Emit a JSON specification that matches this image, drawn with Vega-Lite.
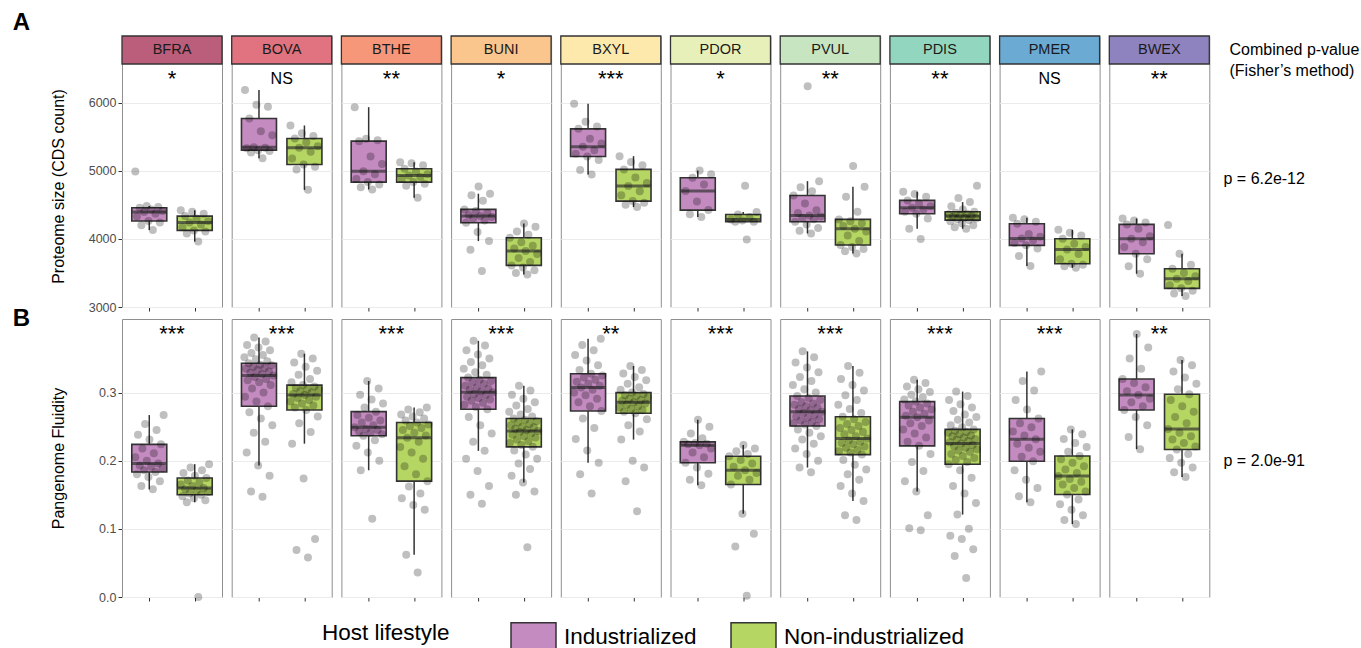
{
"$schema":"https://vega.github.io/schema/vega-lite/v6.json",
"background":"white",
"padding":{"left":12,"top":11,"right":5,"bottom":5},
"spacing":-7,
"config":{
"font":"Liberation Sans",
"view":{"stroke":"#8f8f8f","strokeWidth":1},
"legend":{"orient":"none","legendX":200,"legendY":577,"direction":"horizontal","titleOrient":"left","symbolType":"M-1,-0.62H1V0.62H-1Z","symbolSize":2025,"symbolStrokeColor":"#333333","symbolStrokeWidth":1.5,"symbolOpacity":1,"labelFontSize":22.5,"titleFontSize":22.5,"titleFontWeight":"normal","titleColor":"black","labelColor":"black","labelLimit":300,"columnPadding":31,"labelOffset":7,"titlePadding":60}
},
"datasets":{
"sigA":[{"s":"BFRA","sig":"*"},{"s":"BOVA","sig":"NS"},{"s":"BTHE","sig":"**"},{"s":"BUNI","sig":"*"},{"s":"BXYL","sig":"***"},{"s":"PDOR","sig":"*"},{"s":"PVUL","sig":"**"},{"s":"PDIS","sig":"**"},{"s":"PMER","sig":"NS"},{"s":"BWEX","sig":"**"}],
"sigB":[{"s":"BFRA","sig":"***"},{"s":"BOVA","sig":"***"},{"s":"BTHE","sig":"***"},{"s":"BUNI","sig":"***"},{"s":"BXYL","sig":"**"},{"s":"PDOR","sig":"***"},{"s":"PVUL","sig":"***"},{"s":"PDIS","sig":"***"},{"s":"PMER","sig":"***"},{"s":"BWEX","sig":"**"}],
"A":[
{"s":"BFRA","g":"I","v":4130},{"s":"BFRA","g":"I","v":4200},{"s":"BFRA","g":"I","v":4240},{"s":"BFRA","g":"I","v":4262},{"s":"BFRA","g":"I","v":4330},{"s":"BFRA","g":"I","v":4370},{"s":"BFRA","g":"I","v":4394},{"s":"BFRA","g":"I","v":4410},{"s":"BFRA","g":"I","v":4430},{"s":"BFRA","g":"I","v":4457},{"s":"BFRA","g":"I","v":4470},{"s":"BFRA","g":"I","v":4482},{"s":"BFRA","g":"I","v":4990},
{"s":"BFRA","g":"N","v":3960},{"s":"BFRA","g":"N","v":4080},{"s":"BFRA","g":"N","v":4110},{"s":"BFRA","g":"N","v":4125},{"s":"BFRA","g":"N","v":4170},{"s":"BFRA","g":"N","v":4210},{"s":"BFRA","g":"N","v":4242},{"s":"BFRA","g":"N","v":4260},{"s":"BFRA","g":"N","v":4300},{"s":"BFRA","g":"N","v":4335},{"s":"BFRA","g":"N","v":4370},{"s":"BFRA","g":"N","v":4400},{"s":"BFRA","g":"N","v":4420},
{"s":"BOVA","g":"I","v":5185},{"s":"BOVA","g":"I","v":5270},{"s":"BOVA","g":"I","v":5290},{"s":"BOVA","g":"I","v":5303},{"s":"BOVA","g":"I","v":5330},{"s":"BOVA","g":"I","v":5340},{"s":"BOVA","g":"I","v":5347},{"s":"BOVA","g":"I","v":5520},{"s":"BOVA","g":"I","v":5580},{"s":"BOVA","g":"I","v":5768},{"s":"BOVA","g":"I","v":5940},{"s":"BOVA","g":"I","v":5970},{"s":"BOVA","g":"I","v":6185},
{"s":"BOVA","g":"N","v":4720},{"s":"BOVA","g":"N","v":5020},{"s":"BOVA","g":"N","v":5060},{"s":"BOVA","g":"N","v":5093},{"s":"BOVA","g":"N","v":5180},{"s":"BOVA","g":"N","v":5280},{"s":"BOVA","g":"N","v":5337},{"s":"BOVA","g":"N","v":5360},{"s":"BOVA","g":"N","v":5420},{"s":"BOVA","g":"N","v":5474},{"s":"BOVA","g":"N","v":5510},{"s":"BOVA","g":"N","v":5550},{"s":"BOVA","g":"N","v":5665},
{"s":"BTHE","g":"I","v":4726},{"s":"BTHE","g":"I","v":4760},{"s":"BTHE","g":"I","v":4800},{"s":"BTHE","g":"I","v":4834},{"s":"BTHE","g":"I","v":4880},{"s":"BTHE","g":"I","v":4950},{"s":"BTHE","g":"I","v":4995},{"s":"BTHE","g":"I","v":5100},{"s":"BTHE","g":"I","v":5210},{"s":"BTHE","g":"I","v":5435},{"s":"BTHE","g":"I","v":5450},{"s":"BTHE","g":"I","v":5470},{"s":"BTHE","g":"I","v":5934},
{"s":"BTHE","g":"N","v":4604},{"s":"BTHE","g":"N","v":4780},{"s":"BTHE","g":"N","v":4810},{"s":"BTHE","g":"N","v":4834},{"s":"BTHE","g":"N","v":4880},{"s":"BTHE","g":"N","v":4910},{"s":"BTHE","g":"N","v":4932},{"s":"BTHE","g":"N","v":4950},{"s":"BTHE","g":"N","v":4990},{"s":"BTHE","g":"N","v":5029},{"s":"BTHE","g":"N","v":5080},{"s":"BTHE","g":"N","v":5110},{"s":"BTHE","g":"N","v":5125},
{"s":"BUNI","g":"I","v":3530},{"s":"BUNI","g":"I","v":3840},{"s":"BUNI","g":"I","v":3968},{"s":"BUNI","g":"I","v":4100},{"s":"BUNI","g":"I","v":4237},{"s":"BUNI","g":"I","v":4270},{"s":"BUNI","g":"I","v":4300},{"s":"BUNI","g":"I","v":4320},{"s":"BUNI","g":"I","v":4335},{"s":"BUNI","g":"I","v":4350},{"s":"BUNI","g":"I","v":4380},{"s":"BUNI","g":"I","v":4410},{"s":"BUNI","g":"I","v":4433},{"s":"BUNI","g":"I","v":4560},{"s":"BUNI","g":"I","v":4640},{"s":"BUNI","g":"I","v":4663},{"s":"BUNI","g":"I","v":4770},
{"s":"BUNI","g":"N","v":3479},{"s":"BUNI","g":"N","v":3500},{"s":"BUNI","g":"N","v":3540},{"s":"BUNI","g":"N","v":3580},{"s":"BUNI","g":"N","v":3611},{"s":"BUNI","g":"N","v":3660},{"s":"BUNI","g":"N","v":3720},{"s":"BUNI","g":"N","v":3780},{"s":"BUNI","g":"N","v":3822},{"s":"BUNI","g":"N","v":3860},{"s":"BUNI","g":"N","v":3900},{"s":"BUNI","g":"N","v":3950},{"s":"BUNI","g":"N","v":4017},{"s":"BUNI","g":"N","v":4060},{"s":"BUNI","g":"N","v":4110},{"s":"BUNI","g":"N","v":4180},{"s":"BUNI","g":"N","v":4227},
{"s":"BXYL","g":"I","v":4946},{"s":"BXYL","g":"I","v":5010},{"s":"BXYL","g":"I","v":5160},{"s":"BXYL","g":"I","v":5210},{"s":"BXYL","g":"I","v":5250},{"s":"BXYL","g":"I","v":5300},{"s":"BXYL","g":"I","v":5352},{"s":"BXYL","g":"I","v":5400},{"s":"BXYL","g":"I","v":5470},{"s":"BXYL","g":"I","v":5616},{"s":"BXYL","g":"I","v":5650},{"s":"BXYL","g":"I","v":5720},{"s":"BXYL","g":"I","v":5983},
{"s":"BXYL","g":"N","v":4467},{"s":"BXYL","g":"N","v":4500},{"s":"BXYL","g":"N","v":4530},{"s":"BXYL","g":"N","v":4555},{"s":"BXYL","g":"N","v":4640},{"s":"BXYL","g":"N","v":4700},{"s":"BXYL","g":"N","v":4775},{"s":"BXYL","g":"N","v":4820},{"s":"BXYL","g":"N","v":4900},{"s":"BXYL","g":"N","v":5020},{"s":"BXYL","g":"N","v":5080},{"s":"BXYL","g":"N","v":5130},{"s":"BXYL","g":"N","v":5215},
{"s":"PDOR","g":"I","v":4320},{"s":"PDOR","g":"I","v":4360},{"s":"PDOR","g":"I","v":4423},{"s":"PDOR","g":"I","v":4550},{"s":"PDOR","g":"I","v":4702},{"s":"PDOR","g":"I","v":4800},{"s":"PDOR","g":"I","v":4897},{"s":"PDOR","g":"I","v":4950},{"s":"PDOR","g":"I","v":5005},
{"s":"PDOR","g":"N","v":3990},{"s":"PDOR","g":"N","v":4250},{"s":"PDOR","g":"N","v":4252},{"s":"PDOR","g":"N","v":4270},{"s":"PDOR","g":"N","v":4286},{"s":"PDOR","g":"N","v":4320},{"s":"PDOR","g":"N","v":4359},{"s":"PDOR","g":"N","v":4394},{"s":"PDOR","g":"N","v":4780},
{"s":"PVUL","g":"I","v":4081},{"s":"PVUL","g":"I","v":4120},{"s":"PVUL","g":"I","v":4160},{"s":"PVUL","g":"I","v":4210},{"s":"PVUL","g":"I","v":4252},{"s":"PVUL","g":"I","v":4290},{"s":"PVUL","g":"I","v":4310},{"s":"PVUL","g":"I","v":4330},{"s":"PVUL","g":"I","v":4345},{"s":"PVUL","g":"I","v":4380},{"s":"PVUL","g":"I","v":4420},{"s":"PVUL","g":"I","v":4520},{"s":"PVUL","g":"I","v":4638},{"s":"PVUL","g":"I","v":4700},{"s":"PVUL","g":"I","v":4760},{"s":"PVUL","g":"I","v":4848},{"s":"PVUL","g":"I","v":6242},
{"s":"PVUL","g":"N","v":3787},{"s":"PVUL","g":"N","v":3820},{"s":"PVUL","g":"N","v":3850},{"s":"PVUL","g":"N","v":3880},{"s":"PVUL","g":"N","v":3910},{"s":"PVUL","g":"N","v":3970},{"s":"PVUL","g":"N","v":4050},{"s":"PVUL","g":"N","v":4110},{"s":"PVUL","g":"N","v":4149},{"s":"PVUL","g":"N","v":4190},{"s":"PVUL","g":"N","v":4230},{"s":"PVUL","g":"N","v":4260},{"s":"PVUL","g":"N","v":4286},{"s":"PVUL","g":"N","v":4400},{"s":"PVUL","g":"N","v":4620},{"s":"PVUL","g":"N","v":4765},{"s":"PVUL","g":"N","v":5070},
{"s":"PDIS","g":"I","v":4000},{"s":"PDIS","g":"I","v":4149},{"s":"PDIS","g":"I","v":4300},{"s":"PDIS","g":"I","v":4369},{"s":"PDIS","g":"I","v":4400},{"s":"PDIS","g":"I","v":4430},{"s":"PDIS","g":"I","v":4457},{"s":"PDIS","g":"I","v":4480},{"s":"PDIS","g":"I","v":4520},{"s":"PDIS","g":"I","v":4565},{"s":"PDIS","g":"I","v":4620},{"s":"PDIS","g":"I","v":4660},{"s":"PDIS","g":"I","v":4692},
{"s":"PDIS","g":"N","v":4149},{"s":"PDIS","g":"N","v":4170},{"s":"PDIS","g":"N","v":4200},{"s":"PDIS","g":"N","v":4230},{"s":"PDIS","g":"N","v":4260},{"s":"PDIS","g":"N","v":4276},{"s":"PDIS","g":"N","v":4290},{"s":"PDIS","g":"N","v":4300},{"s":"PDIS","g":"N","v":4315},{"s":"PDIS","g":"N","v":4325},{"s":"PDIS","g":"N","v":4335},{"s":"PDIS","g":"N","v":4345},{"s":"PDIS","g":"N","v":4360},{"s":"PDIS","g":"N","v":4370},{"s":"PDIS","g":"N","v":4385},{"s":"PDIS","g":"N","v":4399},{"s":"PDIS","g":"N","v":4430},{"s":"PDIS","g":"N","v":4480},{"s":"PDIS","g":"N","v":4540},{"s":"PDIS","g":"N","v":4600},{"s":"PDIS","g":"N","v":4780},
{"s":"PMER","g":"I","v":3602},{"s":"PMER","g":"I","v":3750},{"s":"PMER","g":"I","v":3860},{"s":"PMER","g":"I","v":3905},{"s":"PMER","g":"I","v":3940},{"s":"PMER","g":"I","v":3980},{"s":"PMER","g":"I","v":4007},{"s":"PMER","g":"I","v":4030},{"s":"PMER","g":"I","v":4070},{"s":"PMER","g":"I","v":4223},{"s":"PMER","g":"I","v":4250},{"s":"PMER","g":"I","v":4290},{"s":"PMER","g":"I","v":4310},
{"s":"PMER","g":"N","v":3577},{"s":"PMER","g":"N","v":3600},{"s":"PMER","g":"N","v":3620},{"s":"PMER","g":"N","v":3636},{"s":"PMER","g":"N","v":3700},{"s":"PMER","g":"N","v":3780},{"s":"PMER","g":"N","v":3846},{"s":"PMER","g":"N","v":3880},{"s":"PMER","g":"N","v":3930},{"s":"PMER","g":"N","v":4002},{"s":"PMER","g":"N","v":4050},{"s":"PMER","g":"N","v":4090},{"s":"PMER","g":"N","v":4134},
{"s":"BWEX","g":"I","v":3489},{"s":"BWEX","g":"I","v":3600},{"s":"BWEX","g":"I","v":3700},{"s":"BWEX","g":"I","v":3782},{"s":"BWEX","g":"I","v":3880},{"s":"BWEX","g":"I","v":3950},{"s":"BWEX","g":"I","v":4002},{"s":"BWEX","g":"I","v":4040},{"s":"BWEX","g":"I","v":4150},{"s":"BWEX","g":"I","v":4213},{"s":"BWEX","g":"I","v":4240},{"s":"BWEX","g":"I","v":4270},{"s":"BWEX","g":"I","v":4300},
{"s":"BWEX","g":"N","v":3161},{"s":"BWEX","g":"N","v":3200},{"s":"BWEX","g":"N","v":3240},{"s":"BWEX","g":"N","v":3274},{"s":"BWEX","g":"N","v":3320},{"s":"BWEX","g":"N","v":3380},{"s":"BWEX","g":"N","v":3416},{"s":"BWEX","g":"N","v":3450},{"s":"BWEX","g":"N","v":3500},{"s":"BWEX","g":"N","v":3562},{"s":"BWEX","g":"N","v":3620},{"s":"BWEX","g":"N","v":3782},{"s":"BWEX","g":"N","v":4203}
],
"B":[
{"s":"BFRA","g":"I","v":0.158},{"s":"BFRA","g":"I","v":0.163},{"s":"BFRA","g":"I","v":0.170},{"s":"BFRA","g":"I","v":0.176},{"s":"BFRA","g":"I","v":0.180},{"s":"BFRA","g":"I","v":0.1835},{"s":"BFRA","g":"I","v":0.186},{"s":"BFRA","g":"I","v":0.189},{"s":"BFRA","g":"I","v":0.191},{"s":"BFRA","g":"I","v":0.193},{"s":"BFRA","g":"I","v":0.196},{"s":"BFRA","g":"I","v":0.200},{"s":"BFRA","g":"I","v":0.205},{"s":"BFRA","g":"I","v":0.211},{"s":"BFRA","g":"I","v":0.218},{"s":"BFRA","g":"I","v":0.224},{"s":"BFRA","g":"I","v":0.231},{"s":"BFRA","g":"I","v":0.238},{"s":"BFRA","g":"I","v":0.245},{"s":"BFRA","g":"I","v":0.254},{"s":"BFRA","g":"I","v":0.267},
{"s":"BFRA","g":"N","v":0.0},{"s":"BFRA","g":"N","v":0.139},{"s":"BFRA","g":"N","v":0.142},{"s":"BFRA","g":"N","v":0.145},{"s":"BFRA","g":"N","v":0.148},{"s":"BFRA","g":"N","v":0.150},{"s":"BFRA","g":"N","v":0.152},{"s":"BFRA","g":"N","v":0.154},{"s":"BFRA","g":"N","v":0.156},{"s":"BFRA","g":"N","v":0.158},{"s":"BFRA","g":"N","v":0.160},{"s":"BFRA","g":"N","v":0.163},{"s":"BFRA","g":"N","v":0.165},{"s":"BFRA","g":"N","v":0.168},{"s":"BFRA","g":"N","v":0.171},{"s":"BFRA","g":"N","v":0.1746},{"s":"BFRA","g":"N","v":0.178},{"s":"BFRA","g":"N","v":0.182},{"s":"BFRA","g":"N","v":0.186},{"s":"BFRA","g":"N","v":0.190},{"s":"BFRA","g":"N","v":0.195},
{"s":"BOVA","g":"I","v":0.147},{"s":"BOVA","g":"I","v":0.155},{"s":"BOVA","g":"I","v":0.178},{"s":"BOVA","g":"I","v":0.193},{"s":"BOVA","g":"I","v":0.212},{"s":"BOVA","g":"I","v":0.228},{"s":"BOVA","g":"I","v":0.241},{"s":"BOVA","g":"I","v":0.252},{"s":"BOVA","g":"I","v":0.262},{"s":"BOVA","g":"I","v":0.271},{"s":"BOVA","g":"I","v":0.280},{"s":"BOVA","g":"I","v":0.287},{"s":"BOVA","g":"I","v":0.294},{"s":"BOVA","g":"I","v":0.300},{"s":"BOVA","g":"I","v":0.306},{"s":"BOVA","g":"I","v":0.311},{"s":"BOVA","g":"I","v":0.315},{"s":"BOVA","g":"I","v":0.318},{"s":"BOVA","g":"I","v":0.320},{"s":"BOVA","g":"I","v":0.323},{"s":"BOVA","g":"I","v":0.325},{"s":"BOVA","g":"I","v":0.327},{"s":"BOVA","g":"I","v":0.329},{"s":"BOVA","g":"I","v":0.331},{"s":"BOVA","g":"I","v":0.333},{"s":"BOVA","g":"I","v":0.335},{"s":"BOVA","g":"I","v":0.336},{"s":"BOVA","g":"I","v":0.338},{"s":"BOVA","g":"I","v":0.340},{"s":"BOVA","g":"I","v":0.341},{"s":"BOVA","g":"I","v":0.343},{"s":"BOVA","g":"I","v":0.346},{"s":"BOVA","g":"I","v":0.349},{"s":"BOVA","g":"I","v":0.352},{"s":"BOVA","g":"I","v":0.355},{"s":"BOVA","g":"I","v":0.358},{"s":"BOVA","g":"I","v":0.362},{"s":"BOVA","g":"I","v":0.366},{"s":"BOVA","g":"I","v":0.370},{"s":"BOVA","g":"I","v":0.375},{"s":"BOVA","g":"I","v":0.381},
{"s":"BOVA","g":"N","v":0.058},{"s":"BOVA","g":"N","v":0.069},{"s":"BOVA","g":"N","v":0.085},{"s":"BOVA","g":"N","v":0.174},{"s":"BOVA","g":"N","v":0.225},{"s":"BOVA","g":"N","v":0.242},{"s":"BOVA","g":"N","v":0.255},{"s":"BOVA","g":"N","v":0.265},{"s":"BOVA","g":"N","v":0.2745},{"s":"BOVA","g":"N","v":0.278},{"s":"BOVA","g":"N","v":0.281},{"s":"BOVA","g":"N","v":0.284},{"s":"BOVA","g":"N","v":0.287},{"s":"BOVA","g":"N","v":0.289},{"s":"BOVA","g":"N","v":0.292},{"s":"BOVA","g":"N","v":0.294},{"s":"BOVA","g":"N","v":0.2966},{"s":"BOVA","g":"N","v":0.298},{"s":"BOVA","g":"N","v":0.300},{"s":"BOVA","g":"N","v":0.302},{"s":"BOVA","g":"N","v":0.304},{"s":"BOVA","g":"N","v":0.305},{"s":"BOVA","g":"N","v":0.307},{"s":"BOVA","g":"N","v":0.309},{"s":"BOVA","g":"N","v":0.311},{"s":"BOVA","g":"N","v":0.315},{"s":"BOVA","g":"N","v":0.320},{"s":"BOVA","g":"N","v":0.326},{"s":"BOVA","g":"N","v":0.332},{"s":"BOVA","g":"N","v":0.338},{"s":"BOVA","g":"N","v":0.344},{"s":"BOVA","g":"N","v":0.350},{"s":"BOVA","g":"N","v":0.357},
{"s":"BTHE","g":"I","v":0.115},{"s":"BTHE","g":"I","v":0.186},{"s":"BTHE","g":"I","v":0.200},{"s":"BTHE","g":"I","v":0.212},{"s":"BTHE","g":"I","v":0.222},{"s":"BTHE","g":"I","v":0.230},{"s":"BTHE","g":"I","v":0.2366},{"s":"BTHE","g":"I","v":0.239},{"s":"BTHE","g":"I","v":0.241},{"s":"BTHE","g":"I","v":0.243},{"s":"BTHE","g":"I","v":0.245},{"s":"BTHE","g":"I","v":0.247},{"s":"BTHE","g":"I","v":0.249},{"s":"BTHE","g":"I","v":0.252},{"s":"BTHE","g":"I","v":0.256},{"s":"BTHE","g":"I","v":0.259},{"s":"BTHE","g":"I","v":0.263},{"s":"BTHE","g":"I","v":0.267},{"s":"BTHE","g":"I","v":0.272},{"s":"BTHE","g":"I","v":0.278},{"s":"BTHE","g":"I","v":0.284},{"s":"BTHE","g":"I","v":0.290},{"s":"BTHE","g":"I","v":0.297},{"s":"BTHE","g":"I","v":0.306},{"s":"BTHE","g":"I","v":0.317},
{"s":"BTHE","g":"N","v":0.036},{"s":"BTHE","g":"N","v":0.062},{"s":"BTHE","g":"N","v":0.128},{"s":"BTHE","g":"N","v":0.135},{"s":"BTHE","g":"N","v":0.145},{"s":"BTHE","g":"N","v":0.152},{"s":"BTHE","g":"N","v":0.162},{"s":"BTHE","g":"N","v":0.170},{"s":"BTHE","g":"N","v":0.180},{"s":"BTHE","g":"N","v":0.192},{"s":"BTHE","g":"N","v":0.203},{"s":"BTHE","g":"N","v":0.212},{"s":"BTHE","g":"N","v":0.220},{"s":"BTHE","g":"N","v":0.228},{"s":"BTHE","g":"N","v":0.2336},{"s":"BTHE","g":"N","v":0.237},{"s":"BTHE","g":"N","v":0.241},{"s":"BTHE","g":"N","v":0.245},{"s":"BTHE","g":"N","v":0.248},{"s":"BTHE","g":"N","v":0.251},{"s":"BTHE","g":"N","v":0.253},{"s":"BTHE","g":"N","v":0.256},{"s":"BTHE","g":"N","v":0.259},{"s":"BTHE","g":"N","v":0.262},{"s":"BTHE","g":"N","v":0.265},{"s":"BTHE","g":"N","v":0.268},{"s":"BTHE","g":"N","v":0.271},{"s":"BTHE","g":"N","v":0.275},{"s":"BTHE","g":"N","v":0.278},
{"s":"BUNI","g":"I","v":0.137},{"s":"BUNI","g":"I","v":0.150},{"s":"BUNI","g":"I","v":0.163},{"s":"BUNI","g":"I","v":0.185},{"s":"BUNI","g":"I","v":0.203},{"s":"BUNI","g":"I","v":0.2145},{"s":"BUNI","g":"I","v":0.228},{"s":"BUNI","g":"I","v":0.240},{"s":"BUNI","g":"I","v":0.252},{"s":"BUNI","g":"I","v":0.264},{"s":"BUNI","g":"I","v":0.2755},{"s":"BUNI","g":"I","v":0.279},{"s":"BUNI","g":"I","v":0.282},{"s":"BUNI","g":"I","v":0.285},{"s":"BUNI","g":"I","v":0.288},{"s":"BUNI","g":"I","v":0.290},{"s":"BUNI","g":"I","v":0.292},{"s":"BUNI","g":"I","v":0.294},{"s":"BUNI","g":"I","v":0.296},{"s":"BUNI","g":"I","v":0.298},{"s":"BUNI","g":"I","v":0.3005},{"s":"BUNI","g":"I","v":0.302},{"s":"BUNI","g":"I","v":0.304},{"s":"BUNI","g":"I","v":0.306},{"s":"BUNI","g":"I","v":0.308},{"s":"BUNI","g":"I","v":0.310},{"s":"BUNI","g":"I","v":0.313},{"s":"BUNI","g":"I","v":0.315},{"s":"BUNI","g":"I","v":0.317},{"s":"BUNI","g":"I","v":0.319},{"s":"BUNI","g":"I","v":0.322},{"s":"BUNI","g":"I","v":0.326},{"s":"BUNI","g":"I","v":0.330},{"s":"BUNI","g":"I","v":0.335},{"s":"BUNI","g":"I","v":0.340},{"s":"BUNI","g":"I","v":0.345},{"s":"BUNI","g":"I","v":0.350},{"s":"BUNI","g":"I","v":0.356},{"s":"BUNI","g":"I","v":0.362},{"s":"BUNI","g":"I","v":0.369},{"s":"BUNI","g":"I","v":0.376},
{"s":"BUNI","g":"N","v":0.073},{"s":"BUNI","g":"N","v":0.150},{"s":"BUNI","g":"N","v":0.155},{"s":"BUNI","g":"N","v":0.168},{"s":"BUNI","g":"N","v":0.178},{"s":"BUNI","g":"N","v":0.188},{"s":"BUNI","g":"N","v":0.196},{"s":"BUNI","g":"N","v":0.203},{"s":"BUNI","g":"N","v":0.209},{"s":"BUNI","g":"N","v":0.215},{"s":"BUNI","g":"N","v":0.2204},{"s":"BUNI","g":"N","v":0.223},{"s":"BUNI","g":"N","v":0.226},{"s":"BUNI","g":"N","v":0.229},{"s":"BUNI","g":"N","v":0.231},{"s":"BUNI","g":"N","v":0.234},{"s":"BUNI","g":"N","v":0.236},{"s":"BUNI","g":"N","v":0.238},{"s":"BUNI","g":"N","v":0.240},{"s":"BUNI","g":"N","v":0.242},{"s":"BUNI","g":"N","v":0.2435},{"s":"BUNI","g":"N","v":0.245},{"s":"BUNI","g":"N","v":0.247},{"s":"BUNI","g":"N","v":0.249},{"s":"BUNI","g":"N","v":0.250},{"s":"BUNI","g":"N","v":0.252},{"s":"BUNI","g":"N","v":0.254},{"s":"BUNI","g":"N","v":0.256},{"s":"BUNI","g":"N","v":0.258},{"s":"BUNI","g":"N","v":0.260},{"s":"BUNI","g":"N","v":0.262},{"s":"BUNI","g":"N","v":0.265},{"s":"BUNI","g":"N","v":0.268},{"s":"BUNI","g":"N","v":0.272},{"s":"BUNI","g":"N","v":0.276},{"s":"BUNI","g":"N","v":0.281},{"s":"BUNI","g":"N","v":0.286},{"s":"BUNI","g":"N","v":0.291},{"s":"BUNI","g":"N","v":0.297},{"s":"BUNI","g":"N","v":0.303},{"s":"BUNI","g":"N","v":0.310},
{"s":"BXYL","g":"I","v":0.152},{"s":"BXYL","g":"I","v":0.180},{"s":"BXYL","g":"I","v":0.197},{"s":"BXYL","g":"I","v":0.215},{"s":"BXYL","g":"I","v":0.232},{"s":"BXYL","g":"I","v":0.248},{"s":"BXYL","g":"I","v":0.262},{"s":"BXYL","g":"I","v":0.273},{"s":"BXYL","g":"I","v":0.280},{"s":"BXYL","g":"I","v":0.286},{"s":"BXYL","g":"I","v":0.291},{"s":"BXYL","g":"I","v":0.296},{"s":"BXYL","g":"I","v":0.300},{"s":"BXYL","g":"I","v":0.304},{"s":"BXYL","g":"I","v":0.3074},{"s":"BXYL","g":"I","v":0.310},{"s":"BXYL","g":"I","v":0.313},{"s":"BXYL","g":"I","v":0.316},{"s":"BXYL","g":"I","v":0.319},{"s":"BXYL","g":"I","v":0.322},{"s":"BXYL","g":"I","v":0.325},{"s":"BXYL","g":"I","v":0.3276},{"s":"BXYL","g":"I","v":0.333},{"s":"BXYL","g":"I","v":0.340},{"s":"BXYL","g":"I","v":0.347},{"s":"BXYL","g":"I","v":0.355},{"s":"BXYL","g":"I","v":0.362},{"s":"BXYL","g":"I","v":0.370},{"s":"BXYL","g":"I","v":0.379},
{"s":"BXYL","g":"N","v":0.126},{"s":"BXYL","g":"N","v":0.170},{"s":"BXYL","g":"N","v":0.190},{"s":"BXYL","g":"N","v":0.200},{"s":"BXYL","g":"N","v":0.231},{"s":"BXYL","g":"N","v":0.243},{"s":"BXYL","g":"N","v":0.252},{"s":"BXYL","g":"N","v":0.261},{"s":"BXYL","g":"N","v":0.2696},{"s":"BXYL","g":"N","v":0.272},{"s":"BXYL","g":"N","v":0.274},{"s":"BXYL","g":"N","v":0.276},{"s":"BXYL","g":"N","v":0.278},{"s":"BXYL","g":"N","v":0.280},{"s":"BXYL","g":"N","v":0.282},{"s":"BXYL","g":"N","v":0.284},{"s":"BXYL","g":"N","v":0.286},{"s":"BXYL","g":"N","v":0.288},{"s":"BXYL","g":"N","v":0.289},{"s":"BXYL","g":"N","v":0.291},{"s":"BXYL","g":"N","v":0.293},{"s":"BXYL","g":"N","v":0.295},{"s":"BXYL","g":"N","v":0.296},{"s":"BXYL","g":"N","v":0.298},{"s":"BXYL","g":"N","v":0.300},{"s":"BXYL","g":"N","v":0.304},{"s":"BXYL","g":"N","v":0.308},{"s":"BXYL","g":"N","v":0.313},{"s":"BXYL","g":"N","v":0.318},{"s":"BXYL","g":"N","v":0.323},{"s":"BXYL","g":"N","v":0.328},{"s":"BXYL","g":"N","v":0.333},{"s":"BXYL","g":"N","v":0.339},
{"s":"PDOR","g":"I","v":0.164},{"s":"PDOR","g":"I","v":0.172},{"s":"PDOR","g":"I","v":0.181},{"s":"PDOR","g":"I","v":0.190},{"s":"PDOR","g":"I","v":0.197},{"s":"PDOR","g":"I","v":0.205},{"s":"PDOR","g":"I","v":0.212},{"s":"PDOR","g":"I","v":0.218},{"s":"PDOR","g":"I","v":0.2228},{"s":"PDOR","g":"I","v":0.224},{"s":"PDOR","g":"I","v":0.225},{"s":"PDOR","g":"I","v":0.226},{"s":"PDOR","g":"I","v":0.2277},{"s":"PDOR","g":"I","v":0.233},{"s":"PDOR","g":"I","v":0.240},{"s":"PDOR","g":"I","v":0.250},{"s":"PDOR","g":"I","v":0.260},
{"s":"PDOR","g":"N","v":0.002},{"s":"PDOR","g":"N","v":0.074},{"s":"PDOR","g":"N","v":0.093},{"s":"PDOR","g":"N","v":0.122},{"s":"PDOR","g":"N","v":0.165},{"s":"PDOR","g":"N","v":0.172},{"s":"PDOR","g":"N","v":0.178},{"s":"PDOR","g":"N","v":0.182},{"s":"PDOR","g":"N","v":0.186},{"s":"PDOR","g":"N","v":0.191},{"s":"PDOR","g":"N","v":0.196},{"s":"PDOR","g":"N","v":0.201},{"s":"PDOR","g":"N","v":0.2066},{"s":"PDOR","g":"N","v":0.210},{"s":"PDOR","g":"N","v":0.214},{"s":"PDOR","g":"N","v":0.218},{"s":"PDOR","g":"N","v":0.223},
{"s":"PVUL","g":"I","v":0.183},{"s":"PVUL","g":"I","v":0.190},{"s":"PVUL","g":"I","v":0.200},{"s":"PVUL","g":"I","v":0.210},{"s":"PVUL","g":"I","v":0.218},{"s":"PVUL","g":"I","v":0.225},{"s":"PVUL","g":"I","v":0.231},{"s":"PVUL","g":"I","v":0.236},{"s":"PVUL","g":"I","v":0.241},{"s":"PVUL","g":"I","v":0.246},{"s":"PVUL","g":"I","v":0.251},{"s":"PVUL","g":"I","v":0.253},{"s":"PVUL","g":"I","v":0.255},{"s":"PVUL","g":"I","v":0.257},{"s":"PVUL","g":"I","v":0.259},{"s":"PVUL","g":"I","v":0.261},{"s":"PVUL","g":"I","v":0.263},{"s":"PVUL","g":"I","v":0.265},{"s":"PVUL","g":"I","v":0.267},{"s":"PVUL","g":"I","v":0.270},{"s":"PVUL","g":"I","v":0.272},{"s":"PVUL","g":"I","v":0.274},{"s":"PVUL","g":"I","v":0.276},{"s":"PVUL","g":"I","v":0.278},{"s":"PVUL","g":"I","v":0.280},{"s":"PVUL","g":"I","v":0.282},{"s":"PVUL","g":"I","v":0.284},{"s":"PVUL","g":"I","v":0.286},{"s":"PVUL","g":"I","v":0.289},{"s":"PVUL","g":"I","v":0.292},{"s":"PVUL","g":"I","v":0.295},{"s":"PVUL","g":"I","v":0.300},{"s":"PVUL","g":"I","v":0.305},{"s":"PVUL","g":"I","v":0.311},{"s":"PVUL","g":"I","v":0.317},{"s":"PVUL","g":"I","v":0.323},{"s":"PVUL","g":"I","v":0.330},{"s":"PVUL","g":"I","v":0.337},{"s":"PVUL","g":"I","v":0.344},{"s":"PVUL","g":"I","v":0.352},{"s":"PVUL","g":"I","v":0.3605},
{"s":"PVUL","g":"N","v":0.113},{"s":"PVUL","g":"N","v":0.120},{"s":"PVUL","g":"N","v":0.141},{"s":"PVUL","g":"N","v":0.152},{"s":"PVUL","g":"N","v":0.163},{"s":"PVUL","g":"N","v":0.172},{"s":"PVUL","g":"N","v":0.180},{"s":"PVUL","g":"N","v":0.187},{"s":"PVUL","g":"N","v":0.194},{"s":"PVUL","g":"N","v":0.201},{"s":"PVUL","g":"N","v":0.209},{"s":"PVUL","g":"N","v":0.212},{"s":"PVUL","g":"N","v":0.214},{"s":"PVUL","g":"N","v":0.216},{"s":"PVUL","g":"N","v":0.219},{"s":"PVUL","g":"N","v":0.221},{"s":"PVUL","g":"N","v":0.224},{"s":"PVUL","g":"N","v":0.226},{"s":"PVUL","g":"N","v":0.228},{"s":"PVUL","g":"N","v":0.230},{"s":"PVUL","g":"N","v":0.2327},{"s":"PVUL","g":"N","v":0.236},{"s":"PVUL","g":"N","v":0.239},{"s":"PVUL","g":"N","v":0.242},{"s":"PVUL","g":"N","v":0.245},{"s":"PVUL","g":"N","v":0.248},{"s":"PVUL","g":"N","v":0.251},{"s":"PVUL","g":"N","v":0.254},{"s":"PVUL","g":"N","v":0.257},{"s":"PVUL","g":"N","v":0.261},{"s":"PVUL","g":"N","v":0.2646},{"s":"PVUL","g":"N","v":0.270},{"s":"PVUL","g":"N","v":0.276},{"s":"PVUL","g":"N","v":0.282},{"s":"PVUL","g":"N","v":0.289},{"s":"PVUL","g":"N","v":0.296},{"s":"PVUL","g":"N","v":0.303},{"s":"PVUL","g":"N","v":0.311},{"s":"PVUL","g":"N","v":0.320},{"s":"PVUL","g":"N","v":0.329},{"s":"PVUL","g":"N","v":0.339},
{"s":"PDIS","g":"I","v":0.098},{"s":"PDIS","g":"I","v":0.101},{"s":"PDIS","g":"I","v":0.120},{"s":"PDIS","g":"I","v":0.155},{"s":"PDIS","g":"I","v":0.170},{"s":"PDIS","g":"I","v":0.185},{"s":"PDIS","g":"I","v":0.198},{"s":"PDIS","g":"I","v":0.210},{"s":"PDIS","g":"I","v":0.2218},{"s":"PDIS","g":"I","v":0.228},{"s":"PDIS","g":"I","v":0.234},{"s":"PDIS","g":"I","v":0.240},{"s":"PDIS","g":"I","v":0.246},{"s":"PDIS","g":"I","v":0.251},{"s":"PDIS","g":"I","v":0.255},{"s":"PDIS","g":"I","v":0.259},{"s":"PDIS","g":"I","v":0.2637},{"s":"PDIS","g":"I","v":0.266},{"s":"PDIS","g":"I","v":0.269},{"s":"PDIS","g":"I","v":0.272},{"s":"PDIS","g":"I","v":0.275},{"s":"PDIS","g":"I","v":0.278},{"s":"PDIS","g":"I","v":0.281},{"s":"PDIS","g":"I","v":0.284},{"s":"PDIS","g":"I","v":0.2868},{"s":"PDIS","g":"I","v":0.290},{"s":"PDIS","g":"I","v":0.293},{"s":"PDIS","g":"I","v":0.297},{"s":"PDIS","g":"I","v":0.301},{"s":"PDIS","g":"I","v":0.305},{"s":"PDIS","g":"I","v":0.309},{"s":"PDIS","g":"I","v":0.314},{"s":"PDIS","g":"I","v":0.3187},
{"s":"PDIS","g":"N","v":0.028},{"s":"PDIS","g":"N","v":0.060},{"s":"PDIS","g":"N","v":0.070},{"s":"PDIS","g":"N","v":0.085},{"s":"PDIS","g":"N","v":0.090},{"s":"PDIS","g":"N","v":0.100},{"s":"PDIS","g":"N","v":0.121},{"s":"PDIS","g":"N","v":0.138},{"s":"PDIS","g":"N","v":0.152},{"s":"PDIS","g":"N","v":0.163},{"s":"PDIS","g":"N","v":0.175},{"s":"PDIS","g":"N","v":0.186},{"s":"PDIS","g":"N","v":0.1948},{"s":"PDIS","g":"N","v":0.198},{"s":"PDIS","g":"N","v":0.201},{"s":"PDIS","g":"N","v":0.204},{"s":"PDIS","g":"N","v":0.207},{"s":"PDIS","g":"N","v":0.210},{"s":"PDIS","g":"N","v":0.213},{"s":"PDIS","g":"N","v":0.215},{"s":"PDIS","g":"N","v":0.217},{"s":"PDIS","g":"N","v":0.219},{"s":"PDIS","g":"N","v":0.221},{"s":"PDIS","g":"N","v":0.223},{"s":"PDIS","g":"N","v":0.2253},{"s":"PDIS","g":"N","v":0.227},{"s":"PDIS","g":"N","v":0.229},{"s":"PDIS","g":"N","v":0.231},{"s":"PDIS","g":"N","v":0.232},{"s":"PDIS","g":"N","v":0.234},{"s":"PDIS","g":"N","v":0.236},{"s":"PDIS","g":"N","v":0.237},{"s":"PDIS","g":"N","v":0.239},{"s":"PDIS","g":"N","v":0.241},{"s":"PDIS","g":"N","v":0.242},{"s":"PDIS","g":"N","v":0.244},{"s":"PDIS","g":"N","v":0.246},{"s":"PDIS","g":"N","v":0.249},{"s":"PDIS","g":"N","v":0.252},{"s":"PDIS","g":"N","v":0.256},{"s":"PDIS","g":"N","v":0.260},{"s":"PDIS","g":"N","v":0.264},{"s":"PDIS","g":"N","v":0.268},{"s":"PDIS","g":"N","v":0.273},{"s":"PDIS","g":"N","v":0.278},{"s":"PDIS","g":"N","v":0.283},{"s":"PDIS","g":"N","v":0.289},{"s":"PDIS","g":"N","v":0.295},{"s":"PDIS","g":"N","v":0.3015},
{"s":"PMER","g":"I","v":0.139},{"s":"PMER","g":"I","v":0.148},{"s":"PMER","g":"I","v":0.160},{"s":"PMER","g":"I","v":0.172},{"s":"PMER","g":"I","v":0.186},{"s":"PMER","g":"I","v":0.1992},{"s":"PMER","g":"I","v":0.206},{"s":"PMER","g":"I","v":0.213},{"s":"PMER","g":"I","v":0.219},{"s":"PMER","g":"I","v":0.225},{"s":"PMER","g":"I","v":0.2317},{"s":"PMER","g":"I","v":0.237},{"s":"PMER","g":"I","v":0.243},{"s":"PMER","g":"I","v":0.249},{"s":"PMER","g":"I","v":0.255},{"s":"PMER","g":"I","v":0.262},{"s":"PMER","g":"I","v":0.275},{"s":"PMER","g":"I","v":0.289},{"s":"PMER","g":"I","v":0.303},{"s":"PMER","g":"I","v":0.317},{"s":"PMER","g":"I","v":0.331},
{"s":"PMER","g":"N","v":0.107},{"s":"PMER","g":"N","v":0.113},{"s":"PMER","g":"N","v":0.120},{"s":"PMER","g":"N","v":0.128},{"s":"PMER","g":"N","v":0.136},{"s":"PMER","g":"N","v":0.143},{"s":"PMER","g":"N","v":0.1505},{"s":"PMER","g":"N","v":0.155},{"s":"PMER","g":"N","v":0.160},{"s":"PMER","g":"N","v":0.165},{"s":"PMER","g":"N","v":0.169},{"s":"PMER","g":"N","v":0.173},{"s":"PMER","g":"N","v":0.1776},{"s":"PMER","g":"N","v":0.182},{"s":"PMER","g":"N","v":0.187},{"s":"PMER","g":"N","v":0.192},{"s":"PMER","g":"N","v":0.197},{"s":"PMER","g":"N","v":0.202},{"s":"PMER","g":"N","v":0.207},{"s":"PMER","g":"N","v":0.213},{"s":"PMER","g":"N","v":0.220},{"s":"PMER","g":"N","v":0.226},{"s":"PMER","g":"N","v":0.232},{"s":"PMER","g":"N","v":0.239},{"s":"PMER","g":"N","v":0.246},
{"s":"BWEX","g":"I","v":0.217},{"s":"BWEX","g":"I","v":0.235},{"s":"BWEX","g":"I","v":0.252},{"s":"BWEX","g":"I","v":0.264},{"s":"BWEX","g":"I","v":0.2745},{"s":"BWEX","g":"I","v":0.280},{"s":"BWEX","g":"I","v":0.286},{"s":"BWEX","g":"I","v":0.291},{"s":"BWEX","g":"I","v":0.2966},{"s":"BWEX","g":"I","v":0.302},{"s":"BWEX","g":"I","v":0.308},{"s":"BWEX","g":"I","v":0.314},{"s":"BWEX","g":"I","v":0.320},{"s":"BWEX","g":"I","v":0.335},{"s":"BWEX","g":"I","v":0.350},{"s":"BWEX","g":"I","v":0.366},{"s":"BWEX","g":"I","v":0.386},
{"s":"BWEX","g":"N","v":0.176},{"s":"BWEX","g":"N","v":0.183},{"s":"BWEX","g":"N","v":0.190},{"s":"BWEX","g":"N","v":0.197},{"s":"BWEX","g":"N","v":0.204},{"s":"BWEX","g":"N","v":0.210},{"s":"BWEX","g":"N","v":0.2164},{"s":"BWEX","g":"N","v":0.221},{"s":"BWEX","g":"N","v":0.226},{"s":"BWEX","g":"N","v":0.231},{"s":"BWEX","g":"N","v":0.236},{"s":"BWEX","g":"N","v":0.241},{"s":"BWEX","g":"N","v":0.2464},{"s":"BWEX","g":"N","v":0.255},{"s":"BWEX","g":"N","v":0.264},{"s":"BWEX","g":"N","v":0.272},{"s":"BWEX","g":"N","v":0.280},{"s":"BWEX","g":"N","v":0.289},{"s":"BWEX","g":"N","v":0.2976},{"s":"BWEX","g":"N","v":0.305},{"s":"BWEX","g":"N","v":0.313},{"s":"BWEX","g":"N","v":0.322},{"s":"BWEX","g":"N","v":0.331},{"s":"BWEX","g":"N","v":0.340},{"s":"BWEX","g":"N","v":0.348}
]
},
"vconcat":[
{
"data":{"name":"A"},
"transform":[{"calculate":"'A'","as":"p"},{"lookup":"s","from":{"data":{"name":"sigA"},"key":"s","fields":["sig"]}}],
"bounds":"flush",
"facet":{
"row":{"field":"p","type":"nominal","title":null,"header":{"labelAngle":0,"labelAnchor":"end","labelAlign":"left","labelBaseline":"line-bottom","labelLineHeight":26,"labelFontSize":24,"labelFontWeight":"bold","labelColor":"black","labelPadding":20}},
"column":{"field":"s","type":"nominal","title":null,"sort":["BFRA","BOVA","BTHE","BUNI","BXYL","PDOR","PVUL","PDIS","PMER","BWEX"],"header":{"labels":false,"title":null}}
},
"spacing":{"row":0,"column":9.7},
"spec":{
"width":100,"height":271,
"resolve":{"axis":{"y":"independent"}},
"layer":[
{"mark":{"type":"boxplot","extent":1.5,"outliers":false,"ticks":false,"size":35,"box":{"stroke":"#333333","strokeWidth":1.6,"opacity":1},"median":{"color":"#333333","thickness":3},"rule":{"stroke":"#333333","strokeWidth":1.5}},
"encoding":{
"x":{"field":"g","type":"nominal","scale":{"type":"point","padding":0.6},"axis":{"labels":false,"title":null,"domain":false,"ticks":true,"tickColor":"#333333","tickSize":4,"grid":false}},
"y":{"field":"v","type":"quantitative","scale":{"domain":[3000,6979],"nice":false,"zero":false},"axis":{"values":[3000,4000,5000,6000],"format":"d","title":"Proteome size (CDS count)","titleFontSize":16,"titleFontWeight":"normal","titleColor":"black","titlePadding":20,"titleY":150,"labelFontSize":12.5,"labelColor":"#4d4d4d","labelFlush":false,"tickColor":"#333333","tickSize":4,"domain":false,"grid":true,"gridColor":"#ebebeb","minExtent":36,"maxExtent":36}},
"color":{"field":"g","type":"nominal","scale":{"domain":["I","N"],"range":["#C48BC1","#B5D662"]},"legend":{"title":"Host lifestyle","labelExpr":"datum.label == 'I' ? 'Industrialized' : 'Non-industrialized'"}}
}},
{"transform":[{"window":[{"op":"row_number","as":"r"}],"groupby":["s","g"],"sort":[{"field":"v"}]},{"calculate":"((datum.r * 0.618034) % 1) - 0.5","as":"j"}],
"mark":{"type":"circle","size":64,"color":"black","opacity":0.25},
"encoding":{
"x":{"field":"g","type":"nominal","scale":{"type":"point","padding":0.6}},
"xOffset":{"field":"j","type":"quantitative","scale":{"domain":[-0.5,0.5],"range":[-15,15]}},
"y":{"field":"v","type":"quantitative","axis":null}
}},
{"transform":[{"aggregate":[{"op":"count","as":"n"}],"groupby":["s"]}],
"mark":{"type":"rect","stroke":"#333333","strokeWidth":1.3},
"encoding":{
"y":{"datum":6568,"type":"quantitative","axis":null},
"y2":{"datum":6979},
"fill":{"field":"s","type":"nominal","scale":{"domain":["BFRA","BOVA","BTHE","BUNI","BXYL","PDOR","PVUL","PDIS","PMER","BWEX"],"range":["#BA5E7C","#E0737F","#F7977A","#FBC58E","#FEE9AC","#E8F0BA","#C7E5C0","#93D6C0","#6BAAD2","#8E82BF"]},"legend":null}
}},
{"transform":[{"aggregate":[{"op":"count","as":"n"}],"groupby":["s"]}],
"mark":{"type":"text","fontSize":14.5,"color":"#1a1a1a","baseline":"middle"},
"encoding":{
"y":{"datum":6774,"type":"quantitative","axis":{"orient":"right","values":[4880],"labelExpr":"'p = 6.2e-12'","ticks":false,"tickSize":0,"domain":false,"grid":false,"labelFontSize":16,"labelColor":"black","labelPadding":13,"labelAlign":"left","title":["Combined p-value","(Fisher’s method)"],"titleAngle":0,"titleAlign":"left","titleBaseline":"top","titleX":19,"titleY":5,"titleFontSize":16,"titleLineHeight":21,"titleFontWeight":"normal","titleColor":"black"}},
"text":{"field":"s"}
}},
{"transform":[{"aggregate":[{"op":"count","as":"n"}],"groupby":["s","sig"]}],
"mark":{"type":"text","baseline":"middle","color":"black"},
"encoding":{
"y":{"datum":6348,"type":"quantitative","axis":null},
"text":{"field":"sig"},
"size":{"condition":{"test":"datum.sig == 'NS'","value":16},"value":22}
}}
]
}
},
{
"data":{"name":"B"},
"transform":[{"calculate":"'B'","as":"p"},{"lookup":"s","from":{"data":{"name":"sigB"},"key":"s","fields":["sig"]}}],
"bounds":"flush",
"facet":{
"row":{"field":"p","type":"nominal","title":null,"header":{"labelAngle":0,"labelAnchor":"end","labelAlign":"left","labelBaseline":"middle","labelFontSize":24,"labelFontWeight":"bold","labelColor":"black","labelPadding":20}},
"column":{"field":"s","type":"nominal","title":null,"sort":["BFRA","BOVA","BTHE","BUNI","BXYL","PDOR","PVUL","PDIS","PMER","BWEX"],"header":{"labels":false,"title":null}}
},
"spacing":{"row":0,"column":9.7},
"spec":{
"width":100,"height":278,
"resolve":{"axis":{"y":"independent"}},
"layer":[
{"mark":{"type":"boxplot","extent":1.5,"outliers":false,"ticks":false,"size":35,"box":{"stroke":"#333333","strokeWidth":1.6,"opacity":1},"median":{"color":"#333333","thickness":3},"rule":{"stroke":"#333333","strokeWidth":1.5}},
"encoding":{
"x":{"field":"g","type":"nominal","scale":{"type":"point","padding":0.6},"axis":{"labels":false,"title":null,"domain":false,"ticks":true,"tickColor":"#333333","tickSize":4,"grid":false}},
"y":{"field":"v","type":"quantitative","scale":{"domain":[0,0.408],"nice":false,"zero":false},"axis":{"values":[0,0.1,0.2,0.3],"format":".1f","title":"Pangenome Fluidity","titleFontSize":16,"titleFontWeight":"normal","titleColor":"black","titlePadding":20,"labelFontSize":12.5,"labelColor":"#4d4d4d","labelFlush":false,"tickColor":"#333333","tickSize":4,"domain":false,"grid":true,"gridColor":"#ebebeb","minExtent":36,"maxExtent":36}},
"color":{"field":"g","type":"nominal","scale":{"domain":["I","N"],"range":["#C48BC1","#B5D662"]},"legend":{"title":"Host lifestyle","labelExpr":"datum.label == 'I' ? 'Industrialized' : 'Non-industrialized'"}}
}},
{"transform":[{"window":[{"op":"row_number","as":"r"}],"groupby":["s","g"],"sort":[{"field":"v"}]},{"calculate":"((datum.r * 0.618034) % 1) - 0.5","as":"j"}],
"mark":{"type":"circle","size":64,"color":"black","opacity":0.25},
"encoding":{
"x":{"field":"g","type":"nominal","scale":{"type":"point","padding":0.6}},
"xOffset":{"field":"j","type":"quantitative","scale":{"domain":[-0.5,0.5],"range":[-15,15]}},
"y":{"field":"v","type":"quantitative","axis":null}
}},
{"transform":[{"aggregate":[{"op":"count","as":"n"}],"groupby":["s","sig"]}],
"mark":{"type":"text","baseline":"middle","color":"black"},
"encoding":{
"y":{"datum":0.386,"type":"quantitative","axis":{"orient":"right","values":[0.2],"labelExpr":"'p = 2.0e-91'","ticks":false,"tickSize":0,"domain":false,"grid":false,"labelFontSize":16,"labelColor":"black","labelPadding":13,"labelAlign":"left","title":null}},
"text":{"field":"sig"},
"size":{"condition":{"test":"datum.sig == 'NS'","value":16},"value":22}
}}
]
}
}
]
}
